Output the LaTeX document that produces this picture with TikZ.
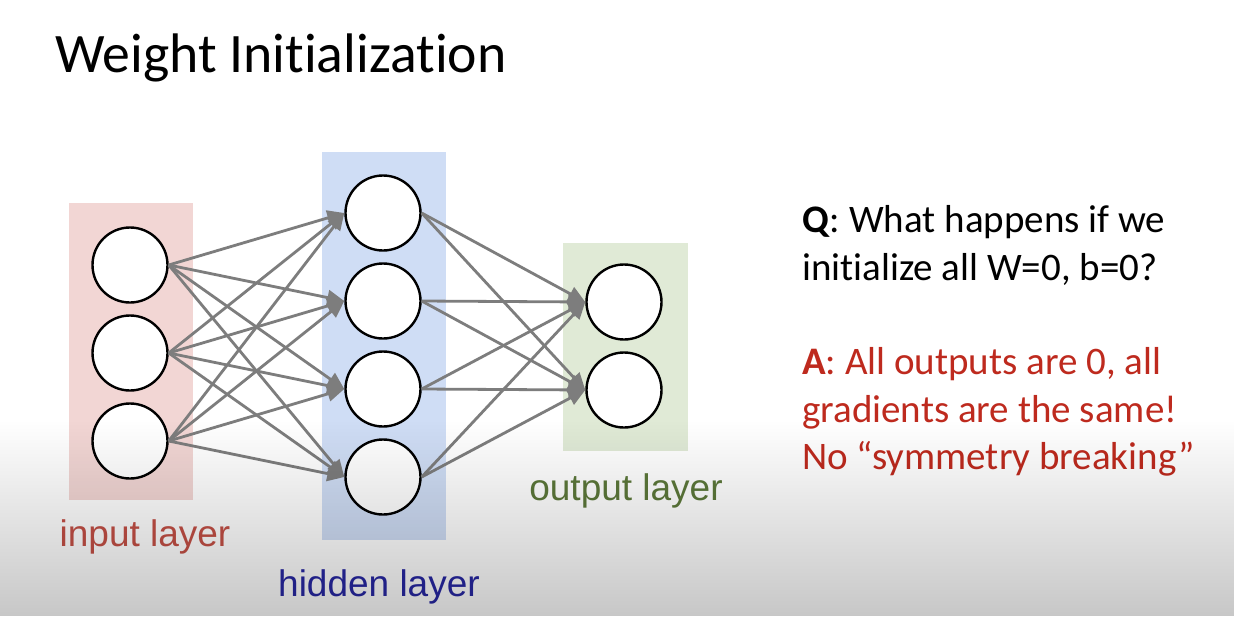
\documentclass[tikz,border=0pt]{standalone}
\usepackage{fontspec}
\usetikzlibrary{arrows.meta,fadings}
\newfontfamily\slidefont[Ligatures={NoCommon}]{Carlito}
\newfontfamily\labelfont{Liberation Sans}
\definecolor{inred}{RGB}{196,80,70}
\definecolor{hidblue}{RGB}{40,40,165}
\definecolor{outgreen}{RGB}{92,120,58}
\definecolor{answerred}{RGB}{190,42,30}
\definecolor{inbox}{RGB}{242,214,212}
\definecolor{hidbox}{RGB}{207,221,245}
\definecolor{outbox}{RGB}{224,234,214}
\definecolor{wiregray}{RGB}{125,125,125}
\tikzfading[name=fadedown, top color=transparent!100, bottom color=transparent!0]

\begin{document}
\begin{tikzpicture}[x=1pt,y=-1pt,
    unit/.style={circle,draw=black,line width=2.4pt,fill=white,minimum size=75pt,inner sep=0pt},
    wire/.style={draw=wiregray,line width=2.8pt,-{Triangle[length=17pt,width=15pt]}},
    layerlabel/.style={font=\labelfont\fontsize{37}{40}\selectfont},
    slidetext/.style={font=\slidefont\fontsize{39}{46}\selectfont,anchor=base west,inner sep=0pt}]
    \useasboundingbox (0,0) rectangle (1236,616);
    \fill[white] (0,0) rectangle (1236,616);
    \node[anchor=base west,inner sep=0pt,font=\slidefont\fontsize{55.7}{66}\selectfont] (title) at (55,72) {Weight Initialization};
    % layer boxes
    \fill[inbox] (69,203) rectangle (193,500);
    \fill[hidbox] (322,152) rectangle (446,540);
    \fill[outbox] (563,243) rectangle (688,451);
    % units
    \node[unit] (i1) at (130,265) {}; \node[unit] (i2) at (130,353) {}; \node[unit] (i3) at (130,441) {};
    \node[unit] (h1) at (383,213) {}; \node[unit] (h2) at (383,301) {}; \node[unit] (h3) at (383,389) {}; \node[unit] (h4) at (383,477) {};
    \node[unit] (o1) at (624,302) {}; \node[unit] (o2) at (624,390) {};
    % connections
    \draw[wire] (i1.east) -- (h1.west); \draw[wire] (i1.east) -- (h2.west); \draw[wire] (i1.east) -- (h3.west); \draw[wire] (i1.east) -- (h4.west);
    \draw[wire] (i2.east) -- (h1.west); \draw[wire] (i2.east) -- (h2.west); \draw[wire] (i2.east) -- (h3.west); \draw[wire] (i2.east) -- (h4.west);
    \draw[wire] (i3.east) -- (h1.west); \draw[wire] (i3.east) -- (h2.west); \draw[wire] (i3.east) -- (h3.west); \draw[wire] (i3.east) -- (h4.west);
    \draw[wire] (h1.east) -- (o1.west); \draw[wire] (h1.east) -- (o2.west);
    \draw[wire] (h2.east) -- (o1.west); \draw[wire] (h2.east) -- (o2.west);
    \draw[wire] (h3.east) -- (o1.west); \draw[wire] (h3.east) -- (o2.west);
    \draw[wire] (h4.east) -- (o1.west); \draw[wire] (h4.east) -- (o2.west);
    % layer names
    \node[layerlabel,text=inred,anchor=base] (inname) at (145,546) {input layer};
    \node[layerlabel,text=hidblue,anchor=base] (hidname) at (379,596) {hidden layer};
    \node[layerlabel,text=outgreen,anchor=base] (outname) at (626,500) {output layer};
    % question and answer
    \node[slidetext] (q1) at (802,232) {\textbf{Q}: What happens if we};
    \node[slidetext] (q2) at (802,280) {initialize all W=0, b=0?};
    \node[slidetext,text=answerred] (a1) at (802,374) {\textbf{A}: All outputs are 0, all};
    \node[slidetext,text=answerred] (a2) at (802,422) {gradients are the same!};
    \node[slidetext,text=answerred] (a3) at (802,469) {No “symmetry breaking”};
    % darker bottom of the slide
    \fill[black,opacity=0.22,path fading=fadedown] (0,420) rectangle (1236,616);
\end{tikzpicture}
\end{document}
